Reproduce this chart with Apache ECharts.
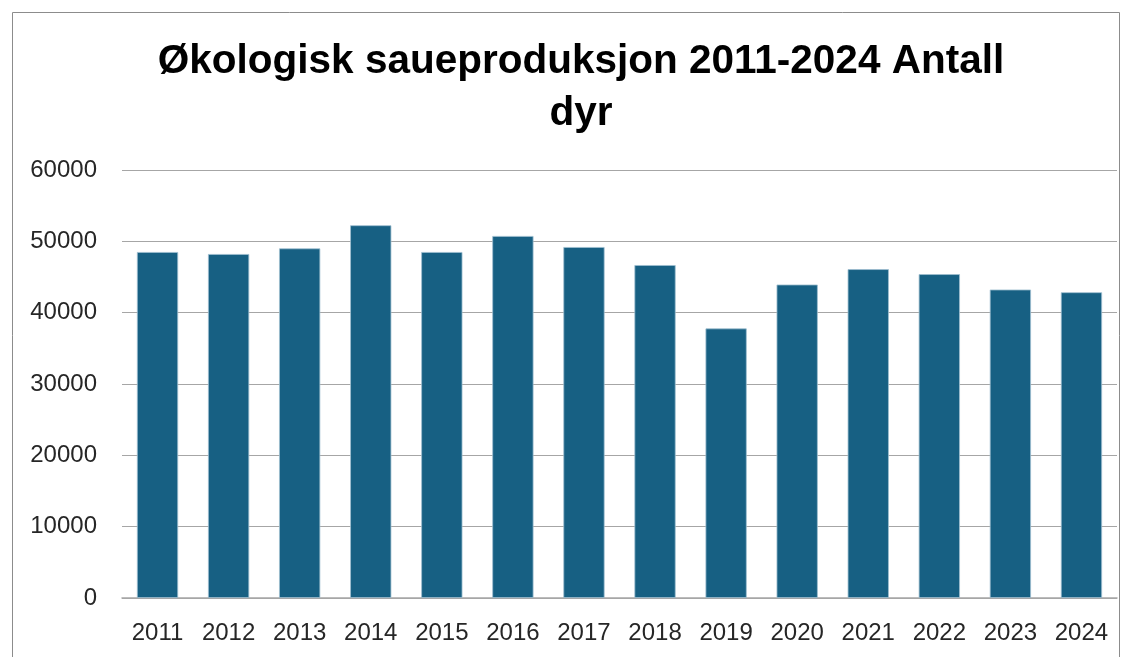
<!DOCTYPE html>
<html>
<head>
<meta charset="utf-8">
<script src="https://cdn.jsdelivr.net/npm/echarts@6/dist/echarts.min.js"></script>
<style>
html,body{margin:0;padding:0;background:#fff;}
#c{width:1132px;height:657px;}
</style>
</head>
<body>
<div id="c"></div>
<script>
const titleText = 'Økologisk saueproduksjon 2011-2024 Antall\ndyr';
const categories = ['2011','2012','2013','2014','2015','2016','2017','2018','2019','2020','2021','2022','2023','2024'];
const values = [48500, 48220, 49010, 52250, 48500, 50750, 49200, 46670, 37790, 43940, 46100, 45400, 43240, 42860];
const yTicks = {min: 0, max: 60000, interval: 10000};

const chart = echarts.init(document.getElementById('c'), null, {renderer: 'canvas'});
chart.setOption({
  animation: false,
  graphic: [{
    type: 'rect',
    shape: {x: 12.5, y: 12.5, width: 1107, height: 700},
    style: {fill: 'none', stroke: '#8c8c8c', lineWidth: 1},
    silent: true
  }],
  title: {
    text: titleText,
    left: 576,
    textAlign: 'center',
    top: 31,
    textStyle: {
      fontFamily: 'Liberation Sans, Arial, sans-serif',
      fontWeight: 'bold',
      fontSize: 40.5,
      lineHeight: 52,
      color: '#000'
    }
  },
  grid: {left: 122, right: 15, top: 170, bottom: 59, containLabel: false},
  xAxis: {
    type: 'category',
    data: categories,
    axisLine: {lineStyle: {color: '#a6a6a6', width: 1.5}},
    axisTick: {show: false},
    axisLabel: {
      color: '#262626',
      fontSize: 24,
      fontFamily: 'Liberation Sans, Arial, sans-serif',
      margin: 23,
      interval: 0
    }
  },
  yAxis: {
    type: 'value',
    min: yTicks.min,
    max: yTicks.max,
    interval: yTicks.interval,
    axisLine: {show: false},
    axisTick: {show: false},
    splitLine: {lineStyle: {color: '#a6a6a6', width: 1.2}},
    axisLabel: {
      color: '#262626',
      fontSize: 24,
      fontFamily: 'Liberation Sans, Arial, sans-serif',
      margin: 25,
      formatter: function (v) { return String(v); }
    }
  },
  series: [{
    type: 'bar',
    data: values,
    barCategoryGap: '42%',
    itemStyle: {color: '#176083', borderColor: '#9fbfd0', borderWidth: 0.8}
  }]
});
</script>
</body>
</html>
